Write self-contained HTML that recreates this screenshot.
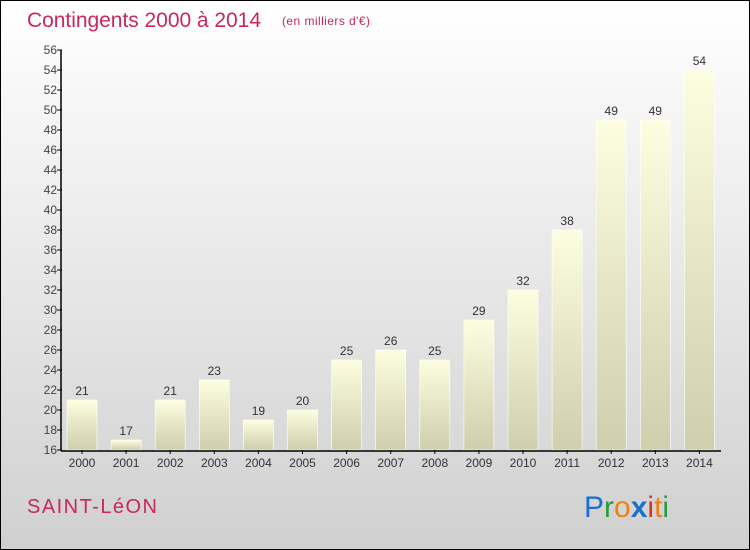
<!DOCTYPE html>
<html><head><meta charset="utf-8"><style>
body{margin:0;}
#c{position:relative;width:748px;height:548px;border:1px solid #000;background:linear-gradient(#ffffff,#d0d0d0);font-family:"Liberation Sans",sans-serif;overflow:hidden}
</style></head><body>
<div id="c">
<svg width="748" height="548" id="svg" font-family="Liberation Sans, sans-serif">
<defs><linearGradient id="bg" x1="0" y1="0" x2="0" y2="1"><stop offset="0" stop-color="#fdfde0"/><stop offset="1" stop-color="#cfcfae"/></linearGradient></defs>
<text x="26" y="26" font-size="21" fill="#c8285a" textLength="234">Contingents 2000 à 2014</text>
<text x="281" y="24" font-size="12" fill="#c8285a" textLength="88">(en milliers d'€)</text>
<text x="26" y="512" font-size="20" fill="#c8285a" textLength="130">SAINT-LéON</text>
<g font-size="30" font-family="Liberation Sans, sans-serif">
<text x="583" y="516"><tspan fill="#1a6fcf">P</tspan><tspan fill="#2a9a3a">r</tspan><tspan fill="#f08010">o</tspan><tspan fill="#1a6fcf" font-weight="bold">x</tspan><tspan fill="#e03020">i</tspan><tspan fill="#f08010">t</tspan><tspan fill="#2a9a3a">i</tspan></text></g>
<g id="plot"></g>
</svg></div>
<script>
const categories=["2000","2001","2002","2003","2004","2005","2006","2007","2008","2009","2010","2011","2012","2013","2014"];
const values=[21,17,21,23,19,20,25,26,25,29,32,38,49,49,54];
const yTicks=[16,18,20,22,24,26,28,30,32,34,36,38,40,42,44,46,48,50,52,54,56];
const NS="http://www.w3.org/2000/svg";
const g=document.getElementById('plot');
const y=v=>449-(v-16)*10;
const x=i=>81+44.1*i;
function mk(t,a){const e=document.createElementNS(NS,t);for(const k in a)e.setAttribute(k,a[k]);g.appendChild(e);return e;}
categories.forEach((c,i)=>{
 const r=mk('rect',{x:x(i)-15,y:y(values[i]),width:30,height:449-y(values[i]),fill:'url(#bg)',stroke:'#fff','stroke-width':0.6});
 
 
 const t=mk('text',{x:x(i),y:y(values[i])-5,'font-size':12,fill:'#333','text-anchor':'middle'});t.textContent=values[i];
 
 
 const l=mk('text',{x:x(i),y:466,'font-size':12,fill:'#333','text-anchor':'middle'});l.textContent=c;
 
 
 mk('line',{x1:x(i),x2:x(i),y1:449,y2:453,stroke:'#000'});
});
yTicks.forEach(v=>{
 mk('line',{x1:56,x2:61,y1:y(v),y2:y(v),stroke:'#000'});
 const t=mk('text',{x:56,y:y(v)+4,'font-size':12,fill:'#444','text-anchor':'end'});t.textContent=v;
 
 
});
const ya=mk('line',{x1:60,x2:60,y1:y(56),y2:450,stroke:'#000','stroke-width':1.5});


const xa=mk('line',{x1:60,x2:720,y1:450,y2:450,stroke:'#000','stroke-width':1.5});


</script>
</body></html>
